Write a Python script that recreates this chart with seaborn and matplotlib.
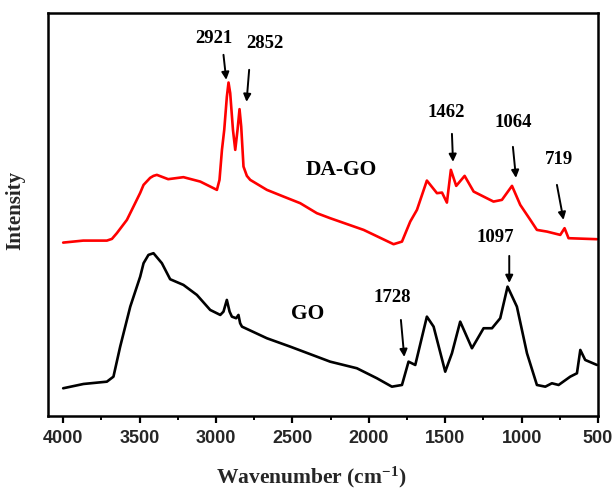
import matplotlib
matplotlib.use("Agg")
import matplotlib.pyplot as plt
from matplotlib.ticker import MultipleLocator
import seaborn as sns
import pandas as pd

# ---- data (arbitrary intensity units) ----
dago_wn = [4000, 3869, 3714, 3681, 3649, 3583, 3540, 3496, 3474, 3431, 3409, 3387,
           3313, 3213, 3103, 2994, 2977, 2961, 2946, 2929, 2918, 2907, 2889, 2874,
           2859, 2846, 2835, 2820, 2798, 2776, 2667, 2558, 2449, 2340, 2253,
           2034, 1838, 1783, 1729, 1685, 1620, 1554, 1521, 1489, 1463, 1428, 1373,
           1314, 1184, 1129, 1063, 1009, 943, 900, 834, 747, 719, 693, 507]
dago_int = [173.3, 175.3, 175.3, 177, 182.7, 196, 209.3, 223, 231, 238, 240, 241,
            236.7, 238.7, 234.3, 226, 236, 266, 286, 319, 333.3, 322.7, 286, 266,
            286, 306.7, 289.3, 249.3, 240, 236, 226, 219.3, 212.7, 202.7, 197.7,
            186, 171.7, 174.3, 194.3, 206, 235.3, 222.7, 223.3, 213.3, 246, 230, 240,
            224.3, 214.3, 216, 230, 211, 196, 186, 184.3, 181, 187.7, 177.7, 176.7]

go_wn = [4000, 3867, 3714, 3671, 3627, 3561, 3496, 3474, 3442, 3409, 3354, 3300,
         3213, 3125, 3038, 2972, 2951, 2929, 2911, 2896, 2868, 2853, 2842, 2830,
         2667, 2514, 2253, 2078, 1947, 1849, 1783, 1740, 1696, 1620, 1576, 1500,
         1456, 1402, 1325, 1249, 1194, 1140, 1092, 1031, 965, 900, 845, 802, 758,
         682, 638, 616, 584, 507]
go_int = [27.7, 32, 34.3, 39.3, 69.3, 109.3, 139.3, 152.7, 161, 162.7, 152.7, 136.7,
          131, 121, 106, 101, 104.3, 116, 104.3, 99.3, 97.7, 101, 92.7, 89.3,
          77.7, 69.3, 54.3, 47.7, 37.7, 29.3, 31, 54.3, 51, 99.3, 89.3, 44.3,
          62.7, 94.3, 67.7, 87.7, 87.7, 97.7, 129.3, 109.3, 62.7, 31, 29.3, 32.7, 31,
          39.3, 42.7, 66, 56, 51]

series_names = ["DA-GO", "GO"]
series_colors = ["#ff0000", "#000000"]

x_ticks = [4000, 3500, 3000, 2500, 2000, 1500, 1000, 500]
x_tick_labels = ["4000", "3500", "3000", "2500", "2000", "1500", "1000", "500"]

peak_labels = ["2921", "2852", "1462", "1064", "719", "1097", "1728"]

# ---- layout / annotation positions ----
peak_text_xy = [(3012, 377), (2681, 372), (1493, 303), (1055, 293), (754, 256),
                (1173, 178), (1849, 118)]
arrow_tail = [(2951, 361), (2783, 346), (1456, 282), (1057, 269), (769, 231),
              (1081, 160), (1790, 96)]
arrow_tip = [(2933, 336), (2800, 314), (1449, 254), (1037, 238), (726, 196),
             (1081, 133), (1768, 59)]
series_label_xy = [(2183, 246), (2401, 102)]

sns.set_style("ticks")
plt.rcParams["font.family"] = ["Liberation Serif", "DejaVu Serif"]
plt.rcParams["mathtext.fontset"] = "custom"
plt.rcParams["mathtext.rm"] = "Liberation Serif:bold"
plt.rcParams["mathtext.bf"] = "Liberation Serif:bold"
plt.rcParams["mathtext.it"] = "Liberation Serif:bold"

df = pd.concat([
    pd.DataFrame({"wn": dago_wn, "intensity": dago_int, "sample": series_names[0]}),
    pd.DataFrame({"wn": go_wn, "intensity": go_int, "sample": series_names[1]}),
])

fig = plt.figure(figsize=(6.14, 4.92), dpi=100)
ax = fig.add_axes([0.078, 0.1545, 0.896, 0.8195])

sns.lineplot(data=df, x="wn", y="intensity", hue="sample",
             palette=dict(zip(series_names, series_colors)),
             linewidth=1.9, legend=False, ax=ax, estimator=None, sort=False)
for ln in ax.get_lines():
    ln.set_solid_joinstyle("round")

ax.set_xlim(4100, 500)
ax.set_ylim(0, 403)
ax.set_yticks([])
ax.set_xticks(x_ticks)
ax.set_xticklabels(x_tick_labels, fontfamily="Liberation Sans",
                   fontweight="bold", fontsize=13)
ax.xaxis.set_minor_locator(MultipleLocator(250))
ax.tick_params(axis="x", which="major", direction="out", length=5, width=1.6,
               pad=5, color="black")
ax.tick_params(axis="x", which="minor", direction="out", length=3, width=1.4,
               color="black")
for sp in ax.spines.values():
    sp.set_linewidth(1.8)
    sp.set_color("black")

ax.set_xlabel(r"Wavenumber (cm$^{-1}$)", fontsize=15.5, fontweight="bold")
ax.set_ylabel("Intensity", fontsize=15, fontweight="bold")
ax.xaxis.set_label_coords(0.478, -0.12)
ax.yaxis.set_label_coords(-0.042, 0.51)

for lab, txy, tail, tip in zip(peak_labels, peak_text_xy, arrow_tail, arrow_tip):
    ax.text(txy[0], txy[1], lab, ha="center", va="center", fontsize=13.5,
            fontweight="bold", color="black")
    ax.annotate("", xy=tip, xytext=tail,
                arrowprops=dict(arrowstyle="-|>", color="black", lw=1.4,
                                mutation_scale=11, shrinkA=0, shrinkB=0))

for name, xy in zip(series_names, series_label_xy):
    ax.text(xy[0], xy[1], name, ha="center", va="center", fontsize=15.5,
            fontweight="bold", color="black")

fig.savefig("out.png", dpi=100)
